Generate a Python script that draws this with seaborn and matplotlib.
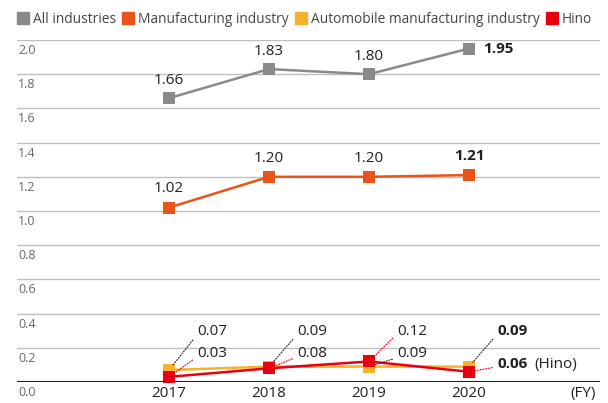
import numpy as np
import pandas as pd
import seaborn as sns
import matplotlib.pyplot as plt
import matplotlib.transforms as mtransforms
from matplotlib.lines import Line2D

years = ['2017', '2018', '2019', '2020']
all_ind = [1.66, 1.83, 1.80, 1.95]
manuf = [1.02, 1.20, 1.20, 1.21]
auto = [0.07, 0.09, 0.09, 0.09]
hino = [0.03, 0.08, 0.12, 0.06]

series = ['All industries', 'Manufacturing industry',
          'Automobile manufacturing industry', 'Hino']
colors = ['#8a8a8a', '#e8541a', '#f6b22b', '#e60012']
yticks = [0.0, 0.2, 0.4, 0.6, 0.8, 1.0, 1.2, 1.4, 1.6, 1.8, 2.0]

df = pd.DataFrame({
    'year': years * 4,
    'x': list(range(4)) * 4,
    'value': all_ind + manuf + auto + hino,
    'series': [s for s in series for _ in years],
})

sns.set_style('white')
plt.rcParams['font.family'] = ['Open Sans', 'DejaVu Sans']
txt = '#231f20'
fs = 11

fig = plt.figure(figsize=(6.08, 4.03), dpi=100)
ax = fig.add_axes([17 / 608, 21 / 403, (600 - 17) / 608, (382 - 40) / 403])

# gridlines
for v in yticks[1:]:
    ax.axhline(v, color='#bfbfbf', lw=1, zorder=0)
ax.axhline(0, color='#231f20', lw=1.5, zorder=5)

sns.lineplot(data=df, x='x', y='value', hue='series', hue_order=series,
             palette=colors, marker='s', markersize=9, markeredgewidth=0,
             lw=1.8, legend=False, ax=ax)

ax.set_xlim(-1.52, 4.31)
ax.set_ylim(0, 2.0)
ax.set_xticks(range(4), years)
ax.set_yticks([])
ax.tick_params(axis='x', length=0, pad=3, labelsize=fs, labelcolor=txt)
ax.set_xlabel('')
ax.set_ylabel('')
for s in ax.spines.values():
    s.set_visible(False)

# y tick labels below gridlines
trans = mtransforms.blended_transform_factory(ax.transAxes, ax.transData)
off = mtransforms.ScaledTranslation(1 / 100, -4 / 100, fig.dpi_scale_trans)
for v in yticks:
    ax.text(0, v, f'{v:.1f}', transform=trans + off, ha='left', va='top',
            fontsize=9, color='#666666')

ax.annotate('(FY)', (1.0, 0), xycoords=trans, xytext=(-3, -3),
            textcoords='offset points', ha='right', va='top',
            fontsize=fs, color=txt, annotation_clip=False)

# value labels for upper series
for i, v in enumerate(all_ind):
    if i == 3:
        ax.annotate(f'{v:.2f}', (i, v), xytext=(10, 0), textcoords='offset points',
                    ha='left', va='center', fontsize=fs, fontweight='bold', color=txt)
    else:
        ax.annotate(f'{v:.2f}', (i, v), xytext=(0, 12.5), textcoords='offset points',
                    ha='center', va='center', fontsize=fs, color=txt)
for i, v in enumerate(manuf):
    ax.annotate(f'{v:.2f}', (i, v), xytext=(0, 13.5), textcoords='offset points',
                ha='center', va='center', fontsize=fs, color=txt,
                fontweight='bold' if i == 3 else 'normal')

# leader-line labels for lower series (label rows at fixed heights)
row_hi, row_lo, row_hino20 = 0.298, 0.164, 0.105
auto_top = [True, True, False, True]
for i in range(4):
    a_y = row_hi if auto_top[i] else row_lo
    h_y = row_lo if auto_top[i] else row_hi
    if i == 3:
        h_y = row_hino20
    w = 'bold' if i == 3 else 'normal'
    ax.annotate(f'{auto[i]:.2f}', (i, auto[i]), xytext=(i + 0.28, a_y),
                textcoords='data', ha='left', va='center',
                fontsize=fs, color=txt, fontweight=w,
                arrowprops=dict(arrowstyle='-', ls=(0, (1, 1.5)), lw=0.8,
                                color='#231f20', shrinkA=1, shrinkB=4,
                                relpos=(0, 0.25)))
    ax.annotate(f'{hino[i]:.2f}', (i, hino[i]), xytext=(i + 0.28, h_y),
                textcoords='data', ha='left', va='center',
                fontsize=fs, color=txt, fontweight=w,
                arrowprops=dict(arrowstyle='-', ls=(0, (1, 1.5)), lw=0.8,
                                color='#e60012', shrinkA=1, shrinkB=4,
                                relpos=(0, 0.3)))
ax.annotate('(Hino)', (3 + 0.28, row_hino20), xytext=(27, 0),
            textcoords='offset points', ha='left', va='center',
            fontsize=fs, color=txt)

handles = [Line2D([], [], marker='s', ls='', color=c, markersize=9) for c in colors]
fig.legend(handles, series, loc='center left', bbox_to_anchor=(0.01, 0.952),
           ncol=4, frameon=False, handlelength=0.7, handletextpad=0.35,
           columnspacing=0.55, fontsize=9.9, labelcolor='#444444')

plt.savefig('out.png', dpi=100)
